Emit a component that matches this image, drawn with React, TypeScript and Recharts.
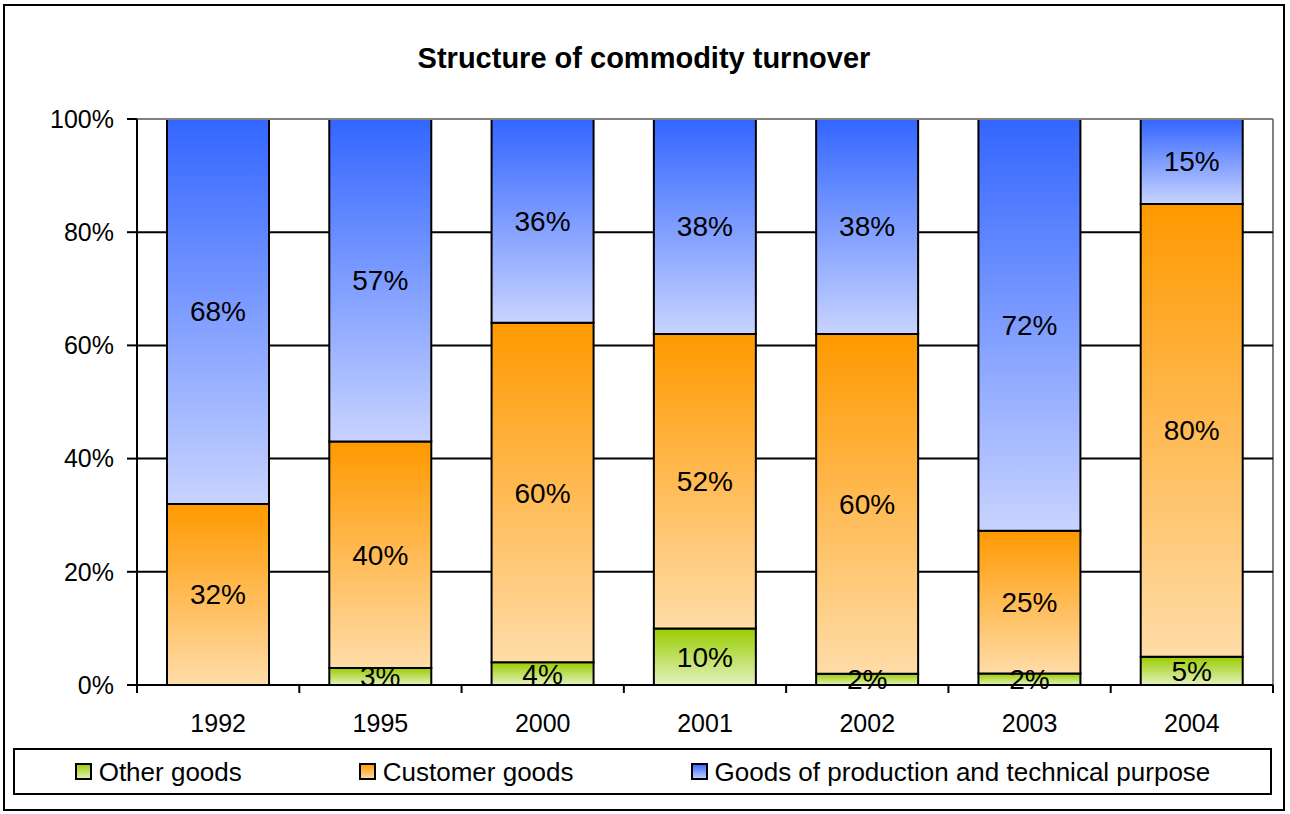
import { BarChart, Bar, XAxis, YAxis, CartesianGrid, Legend, LabelList, ReferenceLine } from "recharts";

const years = ["1992", "1995", "2000", "2001", "2002", "2003", "2004"];
const otherGoods = [0, 3, 4, 10, 2, 2, 5];
const customerGoods = [32, 40, 60, 52, 60, 25, 80];
const productionGoods = [68, 57, 36, 38, 38, 72, 15];
const yTicks = [0, 0.2, 0.4, 0.6, 0.8, 1];

const series = [
  { key: "other", name: "Other goods", top: "#99CC00", bottom: "#E4F2BE" },
  { key: "customer", name: "Customer goods", top: "#FF9900", bottom: "#FFDCA8" },
  { key: "production", name: "Goods of production and technical purpose", top: "#3366FF", bottom: "#C8D3FF" },
];

const data = years.map((year, i) => ({
  year,
  other: otherGoods[i],
  customer: customerGoods[i],
  production: productionGoods[i],
}));

const FONT = '"Liberation Sans", Arial, sans-serif';
const X_TICK_MARGIN = 29;
const W = 1290;
const H = 814;
const MARGIN = { top: 119, right: 17, bottom: 69, left: 0 };
const X_AXIS_H = 60;

function YearTick(props: any) {
  const { x, y, payload, index } = props;
  const half = payload?.offset ?? 0;
  const axisY = y - X_TICK_MARGIN;
  return (
    <g>
      <line x1={x - half} x2={x - half} y1={axisY} y2={axisY + 8} stroke="#000" strokeWidth={2} />
      {index === years.length - 1 && (
        <line x1={x + half} x2={x + half} y1={axisY} y2={axisY + 8} stroke="#000" strokeWidth={2} />
      )}
      <text x={x} y={y} dy="0.71em" textAnchor="middle" fontSize={25} fontFamily={FONT} fill="#000">
        {payload.value}
      </text>
    </g>
  );
}

function LegendBox() {
  return (
    <div
      style={{
        boxSizing: "border-box",
        width: 1259,
        height: 47,
        border: "2px solid #000",
        background: "#fff",
        display: "flex",
        alignItems: "center",
        justifyContent: "center",
        gap: 117,
        fontFamily: FONT,
        fontSize: 26,
        color: "#000",
      }}
    >
      {series.map((s) => (
        <span key={s.key} style={{ display: "flex", alignItems: "center" }}>
          <svg width={17} height={17}>
            <defs>
              <linearGradient id={`lg-${s.key}`} x1="0" y1="0" x2="0" y2="1">
                <stop offset="0%" stopColor={s.top} />
                <stop offset="100%" stopColor={s.bottom} />
              </linearGradient>
            </defs>
            <rect x={1} y={1} width={15} height={15} fill={`url(#lg-${s.key})`} stroke="#000" strokeWidth={2} />
          </svg>
          <span style={{ marginLeft: 7, lineHeight: 1 }}>{s.name}</span>
        </span>
      ))}
    </div>
  );
}

export default function App() {
  return (
    <div style={{ position: "absolute", left: 0, top: 0, width: W, height: H, background: "#fff" }}>
      <div
        style={{
          position: "absolute",
          left: 3,
          top: 4,
          width: 1282,
          height: 807,
          boxSizing: "border-box",
          border: "2px solid #000",
        }}
      />
      <div
        style={{
          position: "absolute",
          left: 0,
          top: 44,
          width: 1288,
          textAlign: "center",
          fontFamily: FONT,
          fontWeight: "bold",
          fontSize: 29,
          lineHeight: "29px",
          color: "#000",
        }}
      >
        Structure of commodity turnover
      </div>
      {/* grey right edge of the plot area */}
      <div
        style={{
          position: "absolute",
          left: W - MARGIN.right - 1,
          top: MARGIN.top,
          width: 2,
          height: H - MARGIN.top - MARGIN.bottom - X_AXIS_H,
          background: "#808080",
        }}
      />
      <div style={{ position: "absolute", left: 0, top: 0 }}>
        <BarChart
          width={W}
          height={H}
          data={data}
          stackOffset="expand"
          barSize={102}
          margin={MARGIN}
        >
          <defs>
            {series.map((s) => (
              <linearGradient key={s.key} id={`g-${s.key}`} x1="0" y1="0" x2="0" y2="1">
                <stop offset="0%" stopColor={s.top} />
                <stop offset="100%" stopColor={s.bottom} />
              </linearGradient>
            ))}
          </defs>
          <CartesianGrid vertical={false} stroke="#000" strokeWidth={2} />
          <ReferenceLine y={1} stroke="#808080" strokeWidth={2} ifOverflow="visible" />
          <XAxis
            dataKey="year"
            height={X_AXIS_H}
            axisLine={{ stroke: "#000", strokeWidth: 2 }}
            tickLine={false}
            tickSize={0}
            tickMargin={X_TICK_MARGIN}
            tick={<YearTick />}
            interval={0}
          />
          <YAxis
            width={137}
            domain={[0, 1]}
            ticks={yTicks}
            tickFormatter={(v: number) => `${Math.round(v * 100)}%`}
            axisLine={{ stroke: "#000", strokeWidth: 2 }}
            tickLine={{ stroke: "#000", strokeWidth: 2 }}
            tickSize={10}
            tickMargin={13}
            tick={{ fill: "#000", fontSize: 25, fontFamily: FONT }}
          />
          {series.map((s) => (
            <Bar
              key={s.key}
              dataKey={s.key}
              name={s.name}
              stackId="a"
              fill={`url(#g-${s.key})`}
              stroke="#000"
              strokeWidth={2}
              isAnimationActive={false}
            >
              <LabelList
                dataKey={s.key}
                position="center"
                fill="#000"
                fontSize={28}
                fontFamily={FONT}
                formatter={(v: any) => (Number(v) > 0 ? `${v}%` : "")}
              />
            </Bar>
          ))}
          <Legend
            layout="horizontal"
            verticalAlign="middle"
            align="center"
            content={<LegendBox />}
            wrapperStyle={{ position: "absolute", left: 13, top: 748, width: 1259, height: 47 }}
          />
        </BarChart>
      </div>
    </div>
  );
}
